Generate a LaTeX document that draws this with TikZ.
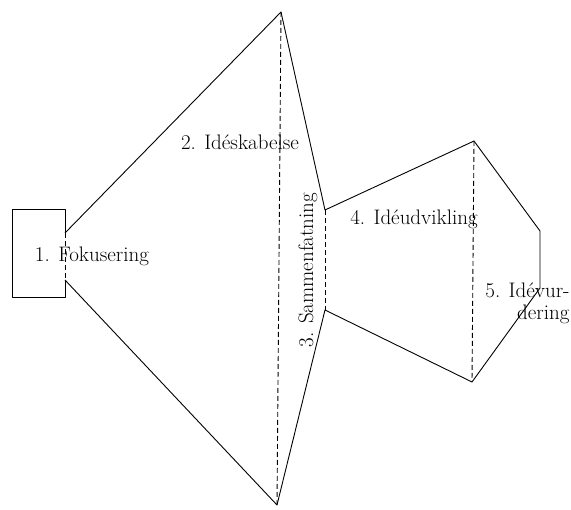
\documentclass[tikz,border=0pt]{standalone}
\usepackage{tikz}
\usetikzlibrary{positioning}

\begin{document}
\begin{tikzpicture}[x=1pt,y=-1pt,line width=0.9pt,line join=round,
      stage/.style={font=\fontsize{21}{22}\selectfont,inner sep=0pt},
      fold/.style={dash pattern=on 5pt off 3pt}]

    \useasboundingbox (0,0) rectangle (571,510);

    \coordinate (B1) at (12,209);
    \coordinate (B2) at (65,209);
    \coordinate (B3) at (65,297);
    \coordinate (B4) at (12,297);
    \coordinate (F1) at (65,233);
    \coordinate (F2) at (65,280);
    \coordinate (T) at (281,12);
    \coordinate (U) at (277,505);
    \coordinate (S1) at (325,210);
    \coordinate (S2) at (325,310);
    \coordinate (D1) at (474,141);
    \coordinate (D2) at (472,382);
    \coordinate (E1) at (540,231);
    \coordinate (E2) at (540,288);

    \draw (F1) -- (B2) -- (B1) -- (B4) -- (B3) -- (F2);
    \draw (F2) -- (U) -- (S2) -- (D2) -- (E2) -- (E1) -- (D1) -- (S1) -- (T) -- (F1);
    \draw[fold] (F1) -- (F2);
    \draw[fold] (T) -- (U);
    \draw[fold] (S1) -- (S2);
    \draw[fold] (D1) -- (D2);

    \node[stage,anchor=base] (fok) at (92,262) {1. Fokusering};
    \node[stage,anchor=base] (ide) at (240,150) {2. Idéskabelse};
    \node[stage,anchor=base,rotate=90] (sam) at (313,270) {3. Sammenfatning};
    \node[stage,anchor=base] (udv) at (414,225) {4. Idéudvikling};
    \node[stage,anchor=base east,align=right] (vur) at (570,320) {5. Idévur-\\dering};

\end{tikzpicture}
\end{document}
